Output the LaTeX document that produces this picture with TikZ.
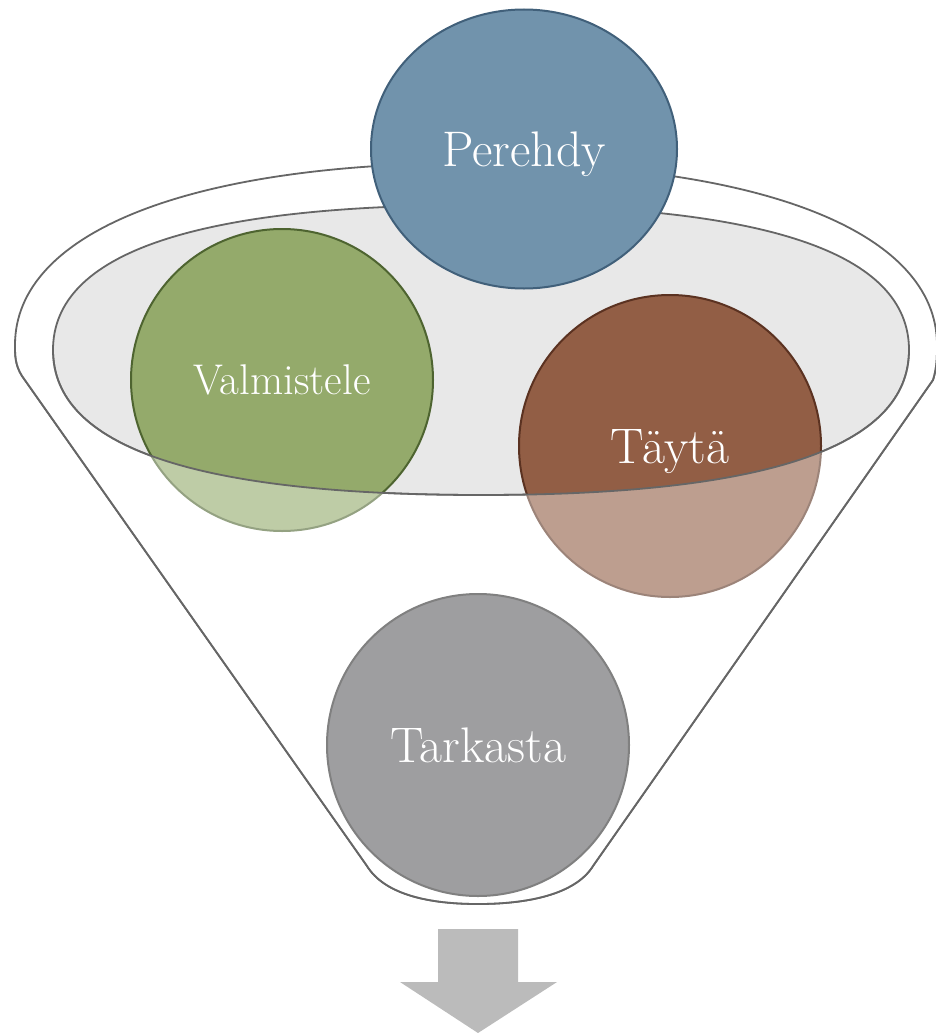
\documentclass[tikz,border=0pt]{standalone}
\usetikzlibrary{shapes.geometric}

\definecolor{blueball}{HTML}{7193AC}
\definecolor{blueedge}{HTML}{41607A}
\definecolor{greenball}{HTML}{94AA6B}
\definecolor{greenedge}{HTML}{4E6430}
\definecolor{brownball}{HTML}{925E45}
\definecolor{brownedge}{HTML}{5B3221}
\definecolor{grayball}{HTML}{9E9EA0}
\definecolor{grayedge}{HTML}{808080}
\definecolor{rimgray}{HTML}{666666}
\definecolor{innergray}{HTML}{E8E8E8}
\definecolor{arrowgray}{HTML}{BBBBBB}

% outline of the funnel, in pixel coordinates
\newcommand{\funnelshape}{(367,866) -- (22,376)
  .. controls (15,365) and (15,355) .. (15,345)
  .. controls (15,232) and (190,163) .. (476,163)
  .. controls (762,163) and (937,232) .. (937,345)
  .. controls (937,357) and (937,367) .. (933,380) -- (593,866)
  .. controls (575,895) and (526,904) .. (478,904)
  .. controls (430,904) and (385,895) .. (367,866) -- cycle}
% the grey mouth of the funnel
\newcommand{\mouthshape}{(53,350)
  .. controls (53,253) and (195,205) .. (481,205)
  .. controls (767,205) and (909,253) .. (909,350)
  .. controls (909,447) and (767,495) .. (481,495)
  .. controls (195,495) and (53,447) .. (53,350) -- cycle}

\begin{document}
\begin{tikzpicture}[x=1pt,y=-1pt,
    ball/.style={circle,draw,line width=2pt,minimum size=302pt,inner sep=0pt,
      text=white,font=\fontsize{50}{50}\selectfont,text height=34pt,text depth=0pt},
    rim/.style={draw=rimgray,line width=1.8pt}]
  \useasboundingbox (0,0) rectangle (936,1033);

  % funnel and its mouth
  \draw[rim,fill=white] \funnelshape;
  \draw[rim,fill=innergray] \mouthshape;

  \node[ball,ellipse,minimum width=306pt,minimum height=279pt,
    fill=blueball,draw=blueedge] (perehdy) at (524,149) {Perehdy};
  \node[ball,fill=greenball,draw=greenedge,font=\fontsize{43}{43}\selectfont,
    text height=29pt] (valmistele) at (282,380) {Valmistele};
  \node[ball,fill=brownball,draw=brownedge] (tayta) at (670,446) {Täytä};

  % front of the funnel over the lower halves
  \begin{scope}
    \clip (0,350) rectangle (936,1033);
    \fill[white,fill opacity=.4,even odd rule] \funnelshape \mouthshape;
    \draw[rim] \funnelshape;
    \draw[rim] \mouthshape;
  \end{scope}

  \node[ball,fill=grayball,draw=grayedge] (tarkasta) at (478,745) {Tarkasta};

  % output arrow
  \fill[arrowgray] (438,929) -- (518,929) -- (518,982) -- (557,982)
    -- (478,1033) -- (400,982) -- (438,982) -- cycle;
\end{tikzpicture}
\end{document}
